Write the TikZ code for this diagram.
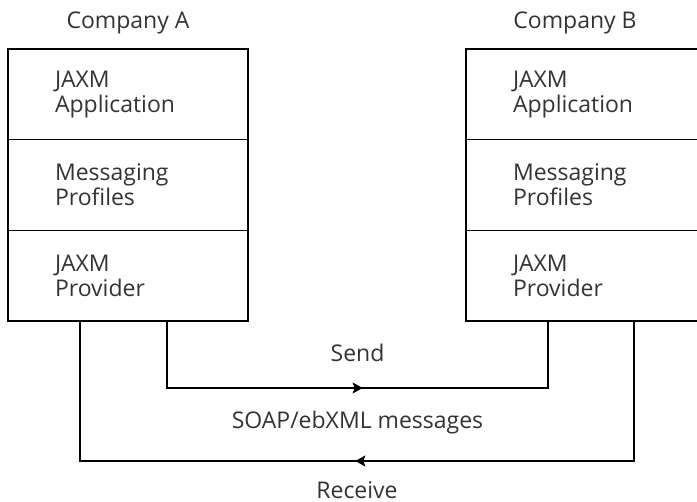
\documentclass[tikz,border=0pt]{standalone}
\usepackage{fontspec}
\setmainfont{Open Sans}
\usetikzlibrary{arrows.meta,positioning,decorations.markings}

\tikzset{
  cell/.style={draw,line width=1.5pt,outer sep=0pt,minimum width=240pt,minimum height=90.7pt,
    text width=146pt,inner xsep=47pt,align=left,text=black!80,font=\fontsize{23}{25}\selectfont},
  txt/.style={text=black!80,font=\fontsize{23}{25}\selectfont},
  msg/.style={line width=1.2pt,postaction={decorate},
    decoration={markings,mark=at position #1 with {\arrow{Stealth[length=10pt,width=11pt,inset=2pt]}}}},
  msg/.default=0.5
}

\begin{document}
\begin{tikzpicture}[x=1pt,y=-1pt]
\useasboundingbox (0,0) rectangle (697,502);
\clip (0,0) rectangle (697,502);
% company A stack
\node[cell,anchor=north west] (appA) at (8,49) {JAXM\\Application};
\node[cell,below=0pt of appA] (profA) {Messaging\\Profiles};
\node[cell,below=0pt of profA] (provA) {JAXM\\Provider};
\node[txt,above=11pt of appA] (compA) {Company A};
% company B stack
\node[cell,anchor=north west] (appB) at (466,49) {JAXM\\Application};
\node[cell,below=0pt of appB] (profB) {Messaging\\Profiles};
\node[cell,below=0pt of profB] (provB) {JAXM\\Provider};
\node[txt,above=11pt of appB,xshift=-11pt] (compB) {Company B};
% message paths
\coordinate (recvA) at ([xshift=72pt]provA.south west);
\coordinate (sendA) at ([xshift=159pt]provA.south west);
\coordinate (sendB) at ([xshift=82pt]provB.south west);
\coordinate (recvB) at ([xshift=168pt]provB.south west);
\coordinate (sendrow) at (0,388);
\coordinate (recvrow) at (0,461);
\draw[msg=0.51] (sendA) -- (sendA |- sendrow) -- (sendB |- sendrow) -- (sendB);
\draw[msg=0.502] (recvB) -- (recvB |- recvrow) -- (recvA |- recvrow) -- (recvA);
\node[txt] (send) at (357.5,353) {Send};
\node[txt] (soap) at (357.5,423) {SOAP/ebXML messages};
\node[txt] (recv) at (357,490) {Receive};
\end{tikzpicture}
\end{document}
